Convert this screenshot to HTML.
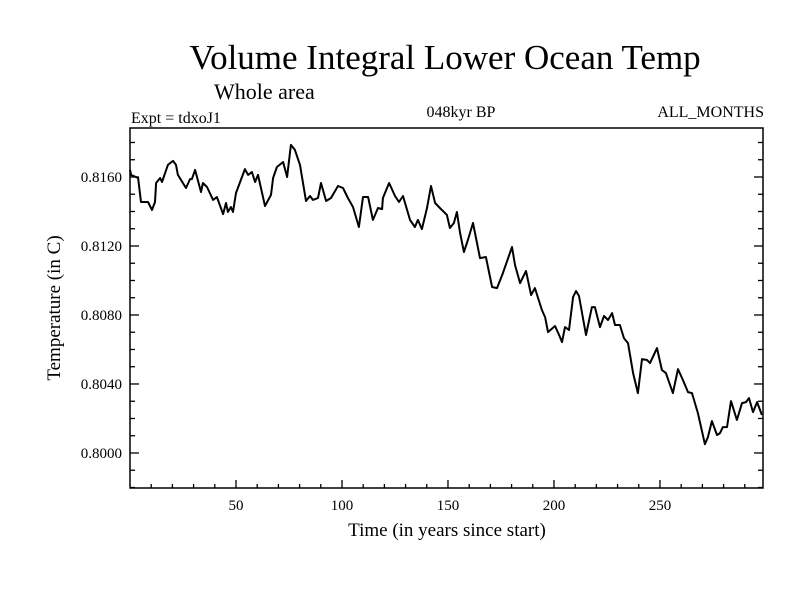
<!DOCTYPE html>
<html><head><meta charset="utf-8"><style>
html,body{margin:0;padding:0;background:#fff;}
svg{display:block;font-family:"Liberation Serif",serif;}
</style></head><body>
<svg id="chart" width="800" height="600">
<text x="445" y="69" font-size="35" text-anchor="middle">Volume Integral Lower Ocean Temp</text>
<text x="214" y="99" font-size="22">Whole area</text>
<text x="131" y="123" font-size="16">Expt = tdxoJ1</text>
<text x="461" y="117" font-size="16" text-anchor="middle">048kyr BP</text>
<text x="764" y="117" font-size="16" text-anchor="end">ALL_MONTHS</text>
<text x="447" y="536" font-size="19" text-anchor="middle">Time (in years since start)</text>
<text transform="translate(60,308) rotate(-90)" font-size="19" text-anchor="middle">Temperature (in C)</text>
<g id="axes"></g>
<g id="series"></g>
</svg>
<script>
const years=[0,0.5,3.8,5.2,8.5,10.4,11.8,12.3,14.2,15.1,17.9,20.3,21.7,22.6,26.4,28.3,29.2,30.7,33.5,34.4,36.3,39.2,41.0,43.9,45.3,46.2,47.6,48.6,50.0,54.2,55.7,57.5,59.0,60.4,63.7,66.5,67.5,69.3,72.2,74.1,75.9,77.8,80.2,83.0,84.9,86.3,88.7,90.1,92.5,94.8,98.1,100.5,102.8,105.2,108.0,109.9,112.3,114.6,117.0,118.9,119.3,122.2,125.0,126.9,128.8,132.1,134.4,135.8,137.7,140.1,142.0,143.9,146.2,149.5,150.9,152.8,154.2,155.7,157.5,159.4,161.8,165.1,167.9,170.8,173.1,175.9,180.2,181.6,184.0,186.8,189.2,191.0,194.3,195.8,197.2,200.5,202.4,203.8,205.2,207.1,209.0,210.4,211.8,215.1,217.9,219.3,221.7,223.6,225.5,227.4,228.8,231.1,233.0,234.9,237.3,239.6,241.5,243.9,245.3,248.6,250.9,252.8,256.1,258.5,260.8,263.2,265.1,267.9,271.2,272.6,274.5,276.9,278.3,279.7,281.6,283.5,286.3,288.7,290.6,292.0,293.9,295.8,298.1];
const temps=[0.81641,0.81612,0.81594,0.81455,0.81455,0.81409,0.81455,0.81565,0.81594,0.81571,0.81670,0.81693,0.81670,0.81612,0.81536,0.81588,0.81588,0.81641,0.81513,0.81565,0.81542,0.81467,0.81484,0.81385,0.81449,0.81397,0.81426,0.81397,0.81507,0.81646,0.81612,0.81629,0.81571,0.81612,0.81432,0.81496,0.81594,0.81658,0.81687,0.81600,0.81786,0.81757,0.81670,0.81461,0.81490,0.81467,0.81478,0.81565,0.81461,0.81478,0.81548,0.81536,0.81478,0.81426,0.81310,0.81484,0.81484,0.81351,0.81420,0.81414,0.81478,0.81565,0.81490,0.81455,0.81490,0.81351,0.81310,0.81351,0.81298,0.81420,0.81548,0.81449,0.81420,0.81380,0.81304,0.81333,0.81397,0.81275,0.81165,0.81235,0.81333,0.81130,0.81136,0.80962,0.80956,0.81043,0.81194,0.81090,0.80985,0.81055,0.80916,0.80956,0.80829,0.80788,0.80701,0.80736,0.80684,0.80643,0.80730,0.80713,0.80904,0.80939,0.80910,0.80684,0.80846,0.80846,0.80730,0.80794,0.80771,0.80811,0.80742,0.80742,0.80666,0.80637,0.80463,0.80347,0.80544,0.80539,0.80521,0.80608,0.80481,0.80463,0.80347,0.80486,0.80423,0.80353,0.80347,0.80231,0.80051,0.80092,0.80185,0.80104,0.80115,0.80150,0.80150,0.80301,0.80191,0.80289,0.80295,0.80318,0.80237,0.80295,0.80220];
const xMajorTicks=[50,100,150,200,250];
const yMajorTicks=[0.8000,0.8040,0.8080,0.8120,0.8160];
const yTickLabels=["0.8000","0.8040","0.8080","0.8120","0.8160"];

const L=130,R=763,T=128,B=488;
const xMin=0,xMax=298.6,yMin=0.79797,yMax=0.81884;
const X=v=>L+(v-xMin)/(xMax-xMin)*(R-L);
const Y=v=>B-(v-yMin)/(yMax-yMin)*(B-T);
const NS="http://www.w3.org/2000/svg";
function mk(tag,attrs,parent){const e=document.createElementNS(NS,tag);for(const k in attrs)e.setAttribute(k,attrs[k]);parent.appendChild(e);return e;}
const axes=document.getElementById('axes');
const frame=mk('rect',{x:L,y:T,width:R-L,height:B-T,fill:'none',stroke:'#000','stroke-width':1.5},axes);


for(let v=10;v<xMax;v+=10){
  const maj=v%50===0, len=maj?8:4, x=X(v);
  const t=mk('line',{x1:x,x2:x,y1:B,y2:B-len,stroke:'#000','stroke-width':1.3},axes);
  
  
}
xMajorTicks.forEach(v=>{
  const t=mk('text',{x:X(v),y:B+22,'font-size':15,'text-anchor':'middle'},axes);
  t.textContent=String(v);
  
  
});
for(let i=0;;i++){
  const v=0.7980+i*0.001; if(v>yMax)break; if(v<yMin)continue;
  const maj=Math.round(v*1000)%4===0, len=maj?9:5, y=Y(v);
  const a=mk('line',{x1:L,x2:L+len,y1:y,y2:y,stroke:'#000','stroke-width':1.3},axes);
  
  
  const b=mk('line',{x1:R,x2:R-len,y1:y,y2:y,stroke:'#000','stroke-width':1.3},axes);
  
  
}
yMajorTicks.forEach((v,i)=>{
  const t=mk('text',{x:L-8,y:Y(v)+5,'font-size':15,'text-anchor':'end'},axes);
  t.textContent=yTickLabels[i];
  
  
});
const series=document.getElementById('series');
const d=years.map((yr,i)=>(i?'L':'M')+X(yr).toFixed(1)+','+Y(temps[i]).toFixed(1)).join(' ');
const p=mk('path',{d:d,fill:'none',stroke:'#000','stroke-width':2,'stroke-linejoin':'round'},series);


</script>
</body></html>
